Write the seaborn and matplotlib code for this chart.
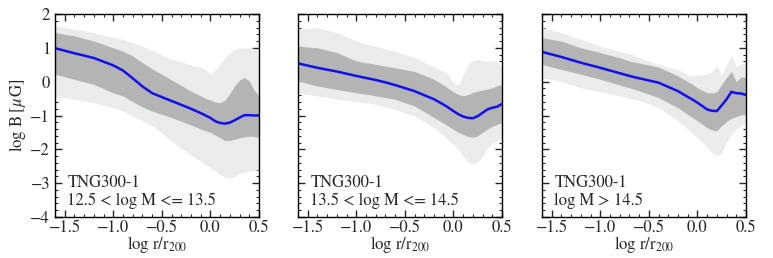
import numpy as np
import pandas as pd
import matplotlib
matplotlib.use("Agg")
import matplotlib.pyplot as plt
from matplotlib.ticker import MultipleLocator
import seaborn as sns

# radial grid, log r / r200
log_r = [-1.6, -1.4, -1.2, -1.0, -0.9, -0.8, -0.7, -0.6, -0.4, -0.2, -0.1, -0.05,
         0.0, 0.05, 0.1, 0.15, 0.2, 0.25, 0.3, 0.35, 0.4, 0.45, 0.5]

mass_labels = ["12.5 < log M <= 13.5", "13.5 < log M <= 14.5", "log M > 14.5"]

# panel 1: 12.5 < logM <= 13.5
med_1 = [0.99, 0.84, 0.70, 0.48, 0.33, 0.10, -0.14, -0.34, -0.57, -0.80, -0.93, -1.00,
         -1.07, -1.17, -1.22, -1.24, -1.21, -1.14, -1.06, -0.99, -0.99, -1.00, -1.00]
dark_hi_1 = [1.45, 1.35, 1.20, 1.00, 0.90, 0.76, 0.56, 0.38, 0.05, -0.28, -0.42, -0.49,
             -0.55, -0.60, -0.62, -0.55, -0.35, -0.12, 0.05, 0.12, 0.02, -0.25, -0.42]
dark_lo_1 = [0.22, 0.07, -0.08, -0.33, -0.42, -0.59, -0.75, -0.87, -1.06, -1.28, -1.40, -1.45,
             -1.50, -1.58, -1.66, -1.74, -1.74, -1.70, -1.66, -1.63, -1.61, -1.62, -1.65]
light_hi_1 = [1.65, 1.55, 1.45, 1.30, 1.25, 1.15, 1.05, 0.92, 0.66, 0.50, 0.42, 0.35,
              0.22, 0.35, 0.50, 0.72, 0.85, 0.95, 1.00, 1.00, 1.00, 0.98, 0.90]
light_lo_1 = [-0.45, -0.52, -0.62, -0.77, -0.87, -1.02, -1.16, -1.30, -1.75, -2.17, -2.35, -2.45,
              -2.55, -2.65, -2.75, -2.82, -2.85, -2.80, -2.72, -2.68, -2.64, -2.62, -2.60]

# panel 2: 13.5 < logM <= 14.5
med_2 = [0.54, 0.41, 0.30, 0.17, 0.11, 0.05, -0.02, -0.10, -0.28, -0.52, -0.68, -0.77,
         -0.87, -0.96, -1.03, -1.07, -1.08, -1.02, -0.92, -0.82, -0.77, -0.74, -0.66]
dark_hi_2 = [1.05, 1.00, 0.86, 0.61, 0.56, 0.51, 0.46, 0.41, 0.30, 0.07, -0.10, -0.20,
             -0.30, -0.38, -0.42, -0.38, -0.32, -0.28, -0.25, -0.22, -0.18, -0.12, -0.08]
dark_lo_2 = [0.02, -0.13, -0.23, -0.33, -0.37, -0.42, -0.47, -0.52, -0.72, -1.06, -1.23, -1.32,
             -1.41, -1.50, -1.56, -1.62, -1.64, -1.60, -1.50, -1.40, -1.32, -1.26, -1.21]
light_hi_2 = [1.55, 1.60, 1.45, 1.20, 1.12, 1.05, 0.97, 0.90, 0.71, 0.43, 0.30, 0.20,
              -0.05, -0.10, 0.20, 0.52, 0.62, 0.66, 0.63, 0.61, 0.62, 0.60, 0.41]
light_lo_2 = [-0.33, -0.42, -0.52, -0.59, -0.63, -0.67, -0.74, -0.82, -1.02, -1.36, -1.60, -1.72,
              -1.85, -2.00, -2.20, -2.38, -2.44, -2.38, -2.20, -1.95, -1.82, -1.72, -1.66]

# panel 3: logM > 14.5
med_3 = [0.88, 0.73, 0.56, 0.41, 0.33, 0.25, 0.17, 0.10, -0.03, -0.28, -0.45, -0.53,
         -0.62, -0.72, -0.82, -0.86, -0.87, -0.70, -0.52, -0.30, -0.34, -0.35, -0.39]
dark_hi_3 = [1.30, 1.20, 1.00, 0.86, 0.78, 0.71, 0.61, 0.55, 0.43, 0.17, 0.00, -0.08,
             -0.18, -0.26, -0.33, -0.33, -0.30, -0.08, 0.12, 0.30, 0.00, 0.14, 0.12]
dark_lo_3 = [0.51, 0.36, 0.22, 0.07, -0.01, -0.10, -0.18, -0.27, -0.47, -0.77, -0.97, -1.06,
             -1.16, -1.26, -1.36, -1.43, -1.45, -1.30, -1.18, -1.08, -1.03, -0.98, -0.97]
light_hi_3 = [1.60, 1.45, 1.25, 1.05, 0.97, 0.90, 0.83, 0.72, 0.51, 0.36, 0.20, 0.17,
              0.19, 0.20, 0.22, 0.30, 0.46, 0.20, 0.50, 0.78, 0.45, 0.52, 0.56]
light_lo_3 = [0.12, 0.00, -0.18, -0.30, -0.36, -0.42, -0.50, -0.55, -0.77, -1.16, -1.40, -1.53,
              -1.66, -1.80, -1.95, -2.10, -2.20, -2.10, -1.80, -1.55, -1.40, -1.30, -1.26]

panels = [
    (med_1, dark_lo_1, dark_hi_1, light_lo_1, light_hi_1),
    (med_2, dark_lo_2, dark_hi_2, light_lo_2, light_hi_2),
    (med_3, dark_lo_3, dark_hi_3, light_lo_3, light_hi_3),
]

sns.set_style("ticks")
plt.rcParams["font.family"] = ["STIXGeneral", "DejaVu Serif"]
plt.rcParams["mathtext.fontset"] = "stix"
plt.rcParams["font.size"] = 12

fig = plt.figure(figsize=(7.73, 2.58), dpi=100)
lefts = [55 / 773, 298 / 773, 542 / 773]

for i, (med, dlo, dhi, llo, lhi) in enumerate(panels):
    ax = fig.add_axes([lefts[i], 41 / 258, 204 / 773, 203 / 258])
    df = pd.DataFrame({"log_r": log_r, "median": med})
    ax.fill_between(log_r, llo, lhi, color="#ebebeb", lw=0)
    ax.fill_between(log_r, dlo, dhi, color="#b4b4b4", lw=0)
    sns.lineplot(data=df, x="log_r", y="median", ax=ax, color="#1010ee", lw=1.8)

    ax.set_xlim(-1.6, 0.5)
    ax.set_ylim(-4, 2)
    ax.xaxis.set_major_locator(MultipleLocator(0.5))
    ax.xaxis.set_minor_locator(MultipleLocator(0.1))
    ax.yaxis.set_major_locator(MultipleLocator(1))
    ax.yaxis.set_minor_locator(MultipleLocator(0.2))
    ax.tick_params(which="both", direction="in", top=True, right=True, labelsize=12)
    ax.tick_params(axis="x", which="major", pad=2)
    ax.tick_params(which="major", length=5, width=1)
    ax.tick_params(which="minor", length=2.5, width=0.8)
    for s in ax.spines.values():
        s.set_linewidth(1.0)
        s.set_color("black")

    ax.set_xlabel(r"$\log\,\mathrm{r}/\mathrm{r}_{200}$", fontsize=12, labelpad=-1)
    if i == 0:
        ax.set_ylabel(r"$\log\,\mathrm{B}\;[\mu\,\mathrm{G}]$", fontsize=12, labelpad=2)
    else:
        ax.set_ylabel("")
        ax.set_yticklabels([])

    ax.text(0.06, 0.04, "TNG300-1\n" + mass_labels[i], transform=ax.transAxes,
            fontsize=12, va="bottom", ha="left", linespacing=1.1)

fig.savefig("out.png", dpi=100)
